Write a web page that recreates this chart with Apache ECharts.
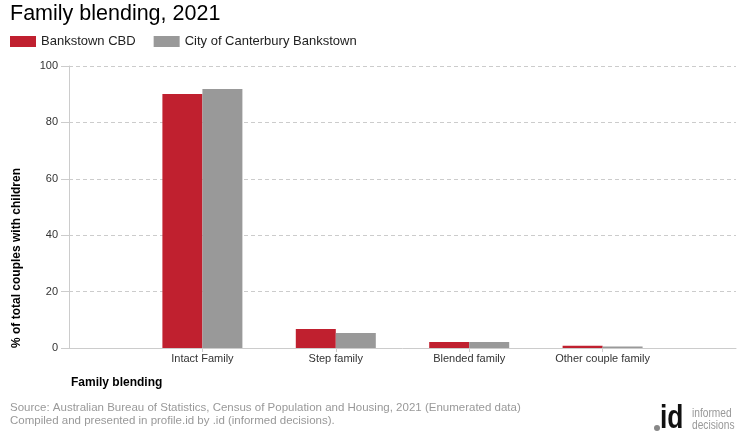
<!DOCTYPE html>
<html>
<head>
<meta charset="utf-8">
<script src="https://cdn.jsdelivr.net/npm/echarts@6/dist/echarts.min.js"></script>
<style>html,body{margin:0;padding:0;background:#fff}#c{width:740px;height:440px}</style>
</head>
<body>
<div id="c"></div>
<script>
var categories = ['', 'Intact Family', 'Step family', 'Blended family', 'Other couple family', ''];
var seriesNames = ['Bankstown CBD', 'City of Canterbury Bankstown'];
var bankstownCBD = [null, 90.1, 6.7, 2.1, 0.8, null];
var canterburyBankstown = [null, 91.8, 5.3, 2.1, 0.5, null];
var yTicks = [0, 20, 40, 60, 80, 100];

var FONT = '"Liberation Sans", Arial, sans-serif';
var chart = echarts.init(document.getElementById('c'), null, {renderer: 'canvas'});
chart.setOption({
  animation: false,
  color: ['#c0202f', '#999999'],
  textStyle: {fontFamily: FONT},
  title: {
    text: 'Family blending, 2021', left: 5, top: -2,
    textStyle: {fontFamily: FONT, fontSize: 21.5, fontWeight: 'normal', color: '#000'}
  },
  legend: {
    left: 5, top: 30, itemWidth: 26, itemHeight: 11, itemGap: 18,
    icon: 'rect',
    textStyle: {fontFamily: FONT, fontSize: 13, color: '#222'},
    data: seriesNames
  },
  grid: {left: 69, right: 4, top: 66, bottom: 92, containLabel: false},
  xAxis: {
    type: 'category',
    data: categories,
    boundaryGap: false,
    axisLine: {show: true, lineStyle: {color: '#cccccc'}},
    axisTick: {show: true, length: 4, lineStyle: {color: '#cccccc'},
      interval: function (i, v) { return v !== ''; }},
    axisLabel: {fontFamily: FONT, fontSize: 11, color: '#333', margin: 5, interval: 0}
  },
  yAxis: {
    type: 'value', min: yTicks[0], max: yTicks[yTicks.length - 1], interval: 20,
    axisLine: {show: true, lineStyle: {color: '#cccccc'}},
    axisTick: {show: true, length: 8, lineStyle: {color: '#cccccc'}},
    axisLabel: {fontFamily: FONT, fontSize: 11, color: '#333', margin: 11},
    splitLine: {show: true, lineStyle: {color: '#cccccc', type: [4, 3]}}
  },
  series: [
    {name: seriesNames[0], type: 'bar', data: bankstownCBD, barWidth: 40, barGap: '0%'},
    {name: seriesNames[1], type: 'bar', data: canterburyBankstown, barWidth: 40, barGap: '0%'}
  ],
  graphic: [
    {type: 'text', x: 17, y: 258, rotation: Math.PI / 2,
      style: {text: '% of total couples with children', fontFamily: FONT, fontSize: 12, fontWeight: 'bold',
        fill: '#000', textAlign: 'center', textVerticalAlign: 'middle'}},
    {type: 'text', x: 71, y: 383,
      style: {text: 'Family blending', fontFamily: FONT, fontSize: 12, fontWeight: 'bold',
        fill: '#000', textAlign: 'left', textVerticalAlign: 'middle'}},
    {type: 'text', x: 10, y: 408,
      style: {text: 'Source: Australian Bureau of Statistics, Census of Population and Housing, 2021 (Enumerated data)',
        fontFamily: FONT, fontSize: 11.5, fill: '#999', textAlign: 'left', textVerticalAlign: 'middle'}},
    {type: 'text', x: 10, y: 421,
      style: {text: 'Compiled and presented in profile.id by .id (informed decisions).',
        fontFamily: FONT, fontSize: 11.5, fill: '#999', textAlign: 'left', textVerticalAlign: 'middle'}},
    {type: 'circle', shape: {cx: 657, cy: 428, r: 3}, style: {fill: '#888'}},
    {type: 'text', x: 660, y: 435, scaleX: 0.8,
      style: {text: 'id', fontFamily: FONT, fontSize: 33, fontWeight: 'bold', fill: '#111',
        textAlign: 'left', textVerticalAlign: 'bottom'}},
    {type: 'text', x: 692, y: 414, scaleX: 0.85,
      style: {text: 'informed', fontFamily: FONT, fontSize: 12, fill: '#999', textAlign: 'left', textVerticalAlign: 'middle'}},
    {type: 'text', x: 692, y: 426, scaleX: 0.85,
      style: {text: 'decisions', fontFamily: FONT, fontSize: 12, fill: '#999', textAlign: 'left', textVerticalAlign: 'middle'}}
  ]
});
</script>
</body>
</html>
